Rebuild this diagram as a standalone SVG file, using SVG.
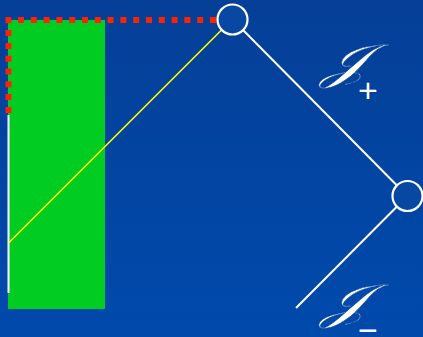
<svg xmlns="http://www.w3.org/2000/svg" width="423" height="337" viewBox="0 0 423 337">
<defs>
<linearGradient id="bg" x1="0" y1="0" x2="0" y2="1">
<stop offset="0" stop-color="#053f97"/>
<stop offset="1" stop-color="#004aac"/>
</linearGradient>
<style>
.w{stroke:#fff;stroke-width:2;fill:none}
.node{fill:#0848a2;stroke:#fff;stroke-width:2.2}
.scri{font-family:"DejaVu Serif","Liberation Serif",serif;fill:#fff;stroke:#0646a2;stroke-width:0.5}
.sub{font-family:"Liberation Sans",sans-serif;fill:#fff}
</style>
</defs>
<rect width="423" height="337" fill="url(#bg)"/>
<rect id="region" x="8" y="20" width="97" height="289" fill="#00cc22"/>
<g id="connectors">
<line class="w" x1="8.5" y1="115" x2="8.5" y2="293" stroke-width="1.8"/>
<line x1="8.5" y1="243" x2="221.5" y2="30" stroke="#ffff00" stroke-width="1.6"/>
<path d="M216 20 H8.5 V117" fill="none" stroke="#ff2200" stroke-width="6" stroke-dasharray="6 6.8"/>
<line class="w" x1="243" y1="30" x2="397" y2="185.5"/>
<line class="w" x1="397" y1="206.5" x2="296" y2="308"/>
</g>
<g id="n1"><circle class="node" cx="232.5" cy="19.5" r="15"/></g>
<g id="n2"><circle class="node" cx="407.5" cy="196" r="15"/></g>
<g id="scri-plus">
<text class="scri" transform="translate(321 78) scale(1.4 1)" font-size="48" font-style="italic">𝒥</text>
<text class="sub" x="358" y="102" font-size="34">+</text>
</g>
<g id="scri-minus">
<text class="scri" transform="translate(321 318) scale(1.4 1)" font-size="48" font-style="italic">𝒥</text>
<text class="sub" x="358" y="342" font-size="34">−</text>
</g>
</svg>
